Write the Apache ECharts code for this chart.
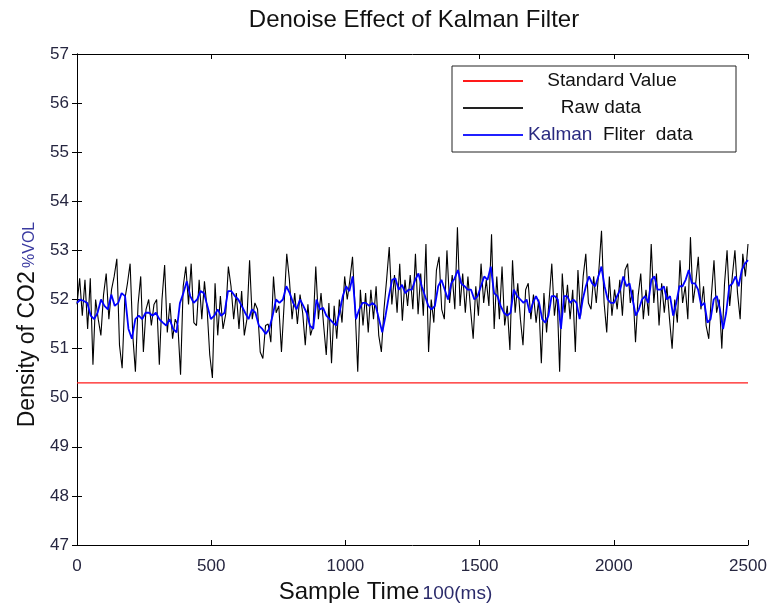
<!DOCTYPE html>
<html>
<head>
<meta charset="utf-8">
<script src="https://cdn.jsdelivr.net/npm/echarts@6/dist/echarts.min.js"></script>
<style>
html,body{margin:0;padding:0;background:#fff;}
#chart{width:769px;height:603px;}
</style>
</head>
<body>
<div id="chart"></div>
<script>
// ---- data ----
var titleText = 'Denoise Effect of Kalman Filter';
var xTicks = [0, 500, 1000, 1500, 2000, 2500];
var yTicks = [47, 48, 49, 50, 51, 52, 53, 54, 55, 56, 57];
var standardValue = 50.3;
// sample-time boundaries of the three read-off segments
var segmentBounds = [0, 831, 1652, 2500];

var rawSeg1 = [51.9, 52.43, 51.67, 52.4, 51.4, 52.43, 50.67, 52.0, 51.6, 51.27, 52.1, 52.53, 51.6, 52.2, 52.47, 52.83, 51.07, 50.6, 52.0, 52.33, 52.73, 51.27, 50.53, 51.9, 52.47, 50.93, 51.8, 52.0, 51.47, 51.9, 52.0, 50.67, 52.0, 52.7, 51.33, 51.93, 51.2, 51.6, 51.47, 50.47, 52.27, 52.67, 51.9, 52.73, 51.53, 51.47, 52.4, 51.6, 52.37, 51.8, 50.87, 50.4, 52.33, 51.27, 52.07, 51.4, 51.7, 52.67, 52.27, 51.6, 52.13, 51.4, 52.17, 51.27, 51.6, 52.8, 51.6, 51.93, 51.8, 50.93, 50.8, 51.47, 51.5, 51.13, 52.47, 51.73, 51.87, 50.93, 51.9, 52.93, 52.4, 51.6, 52.13, 51.5, 52.1];
var rawSeg2 = [51.73, 51.07, 51.9, 51.27, 51.47, 52.67, 51.6, 52.13, 51.47, 50.87, 51.93, 50.7, 51.87, 51.2, 52.0, 51.53, 52.47, 52.0, 52.4, 52.87, 51.8, 50.53, 52.2, 51.47, 52.13, 51.33, 52.2, 51.6, 52.27, 51.27, 50.93, 51.8, 52.4, 53.07, 51.9, 52.5, 51.73, 52.73, 51.57, 52.4, 51.87, 52.5, 51.8, 52.93, 51.7, 52.53, 51.67, 53.13, 50.93, 52.0, 51.53, 52.6, 52.87, 51.8, 51.6, 53.0, 51.93, 52.5, 51.8, 53.47, 51.87, 52.53, 51.73, 52.47, 51.8, 51.2, 52.27, 51.67, 52.73, 51.93, 52.4, 51.87, 53.33, 51.4, 52.47, 51.6, 52.67, 51.47, 51.87, 50.97, 52.8, 51.73, 52.33, 51.6];
var rawSeg3 = [51.07, 52.2, 52.33, 51.6, 52.1, 51.53, 52.0, 50.7, 52.13, 51.33, 52.0, 52.73, 51.67, 52.13, 50.53, 52.53, 51.73, 52.3, 51.6, 52.2, 50.93, 52.6, 51.67, 52.47, 52.93, 51.93, 51.8, 52.47, 51.93, 52.6, 53.4, 51.93, 51.33, 52.47, 51.67, 52.2, 51.8, 52.4, 51.67, 52.6, 52.73, 51.93, 52.2, 51.13, 52.07, 52.53, 51.6, 52.2, 51.67, 53.13, 51.93, 52.53, 51.47, 52.33, 51.73, 52.27, 51.6, 51.0, 52.0, 51.53, 52.8, 51.93, 52.27, 51.6, 53.27, 51.93, 52.33, 52.87, 51.8, 52.27, 51.47, 51.2, 52.07, 52.8, 51.73, 52.0, 51.0, 52.3, 53.0, 51.87, 52.47, 53.0, 52.13, 51.6, 52.93, 52.47, 53.13];

var kalmanSeg1 = [51.93, 52.0, 51.97, 51.93, 51.67, 51.6, 51.73, 52.0, 51.87, 51.8, 52.1, 51.87, 51.93, 52.13, 52.07, 51.4, 51.2, 51.6, 51.67, 51.6, 51.73, 51.73, 51.67, 51.73, 51.6, 51.53, 51.47, 51.6, 51.4, 51.33, 51.93, 52.13, 52.37, 52.07, 51.93, 52.0, 52.17, 52.13, 51.87, 51.6, 51.67, 51.8, 51.67, 51.73, 52.17, 52.17, 52.07, 52.0, 51.87, 51.73, 51.6, 51.8, 51.73, 51.47, 51.4, 51.3, 51.4, 51.67, 52.0, 51.93, 52.0, 52.27, 52.13, 51.93, 51.8, 52.0];
var kalmanSeg2 = [51.87, 51.73, 51.47, 51.4, 52.0, 51.8, 51.83, 51.67, 51.6, 51.53, 51.47, 51.73, 52.07, 52.27, 52.17, 52.47, 51.6, 51.8, 51.93, 51.93, 51.87, 51.93, 51.87, 51.6, 51.33, 51.67, 52.07, 52.4, 52.43, 52.2, 52.3, 52.13, 52.2, 52.2, 52.4, 52.53, 52.27, 52.07, 51.87, 51.8, 51.87, 52.27, 52.4, 52.2, 52.0, 52.33, 52.43, 52.6, 52.33, 52.27, 52.2, 52.2, 52.0, 52.07, 52.27, 52.47, 52.4, 52.67, 52.13, 52.07, 51.87, 51.73, 51.67, 51.73, 52.2, 52.07, 52.0];
var kalmanSeg3 = [51.93, 52.0, 51.73, 51.93, 52.07, 51.93, 51.6, 51.53, 51.67, 52.07, 52.07, 52.0, 51.4, 52.07, 52.07, 51.93, 52.0, 51.93, 51.6, 52.0, 52.27, 52.47, 52.33, 52.27, 52.47, 52.67, 52.27, 52.0, 51.93, 51.93, 52.07, 52.2, 52.47, 52.27, 52.33, 52.0, 51.67, 51.8, 52.0, 52.07, 51.93, 52.4, 52.47, 52.2, 52.2, 52.27, 52.0, 52.07, 51.67, 51.93, 52.27, 52.27, 52.4, 52.6, 52.33, 52.33, 52.2, 51.87, 51.93, 51.53, 51.6, 52.0, 52.07, 51.8, 51.4, 51.73, 52.27, 52.33, 52.47, 52.27, 52.6, 52.73, 52.8];

var seriesNames = ['Standard Value', 'Raw data', 'Kalman Fliter data'];

// ---- build [time, value] pairs ----
function place(segs) {
  var out = [];
  segs.forEach(function (seg, k) {
    var a = segmentBounds[k], b = segmentBounds[k + 1], n = seg.length;
    seg.forEach(function (v, i) {
      var t;
      if (k === 0) t = a + (b - a) * i / (n - 1);
      else t = a + (b - a) * (i + 1) / n;
      out.push([Math.round(t * 10) / 10, v]);
    });
  });
  return out;
}
var rawData = place([rawSeg1, rawSeg2, rawSeg3]);
var kalmanData = place([kalmanSeg1, kalmanSeg2, kalmanSeg3]);
var stdData = [[xTicks[0], standardValue], [xTicks[xTicks.length - 1], standardValue]];

var chart = echarts.init(document.getElementById('chart'), null, {renderer: 'canvas'});
var labelColor = '#262640';
var fontFam = '"Liberation Sans", Arial, sans-serif';

var frameAxisX = {
  type: 'value', min: xTicks[0], max: xTicks[xTicks.length - 1], interval: 500,
  axisLine: {show: true, lineStyle: {color: '#000', width: 1}},
  axisTick: {show: true, inside: true, length: 5, lineStyle: {color: '#000'}},
  splitLine: {show: false}
};
var frameAxisY = {
  type: 'value', min: yTicks[0], max: yTicks[yTicks.length - 1], interval: 1,
  axisLine: {show: true, lineStyle: {color: '#000', width: 1}},
  axisTick: {show: true, inside: true, length: 5, lineStyle: {color: '#000'}},
  splitLine: {show: false}
};

var option = {
  animation: false,
  backgroundColor: '#fff',
  title: {
    text: titleText, left: 414, top: 8, textAlign: 'center', padding: 0,
    textStyle: {fontFamily: fontFam, fontSize: 24, fontWeight: 'normal', color: '#111'}
  },
  grid: {left: 77, right: 21, top: 54, bottom: 58, containLabel: false, outerBoundsMode: 'none'},
  legend: {
    orient: 'vertical', left: 452, top: 66,
    padding: [5, 40, 7, 11],
    backgroundColor: '#fff', borderColor: '#222', borderWidth: 1, borderRadius: 0,
    itemWidth: 60, itemHeight: 2, itemGap: 7, itemTextGap: 9,
    icon: 'rect',
    data: seriesNames,
    formatter: function (name) {
      if (name === seriesNames[0]) return '{s|' + name + '}';
      if (name === seriesNames[1]) return '{r|' + name + '}';
      return '{k|Kalman}{t|  Fliter  data}';
    },
    textStyle: {
      fontFamily: fontFam, fontSize: 19, color: '#111', lineHeight: 20,
      rich: {
        s: {fontFamily: fontFam, fontSize: 19, lineHeight: 20, color: '#111', width: 168, align: 'center'},
        r: {fontFamily: fontFam, fontSize: 19, lineHeight: 20, color: '#111', width: 146, align: 'center'},
        k: {fontFamily: fontFam, fontSize: 19, lineHeight: 20, color: '#2a2a80'},
        t: {fontFamily: fontFam, fontSize: 19, lineHeight: 20, color: '#111'}
      }
    }
  },
  xAxis: [
    Object.assign({}, frameAxisX, {
      position: 'bottom',
      axisLabel: {show: true, margin: 13, fontFamily: fontFam, fontSize: 17, color: labelColor,
        formatter: function (v) { return String(v); }},
      name: '{a|Sample Time} {b|100(ms)}',
      nameLocation: 'middle', nameGap: 29,
      nameTextStyle: {
        padding: [0, 54, 0, 0],
        rich: {
          a: {fontFamily: fontFam, fontSize: 24, color: '#111', verticalAlign: 'bottom', lineHeight: 27},
          b: {fontFamily: fontFam, fontSize: 19, color: '#2a2a6a', verticalAlign: 'bottom', lineHeight: 27, padding: [0, 0, 1, 0]}
        }
      }
    }),
    Object.assign({}, frameAxisX, {position: 'top', axisLabel: {show: false}})
  ],
  yAxis: [
    Object.assign({}, frameAxisY, {
      position: 'left',
      axisLabel: {show: true, margin: 8, fontFamily: fontFam, fontSize: 17, color: labelColor},
      name: '{a|Density of CO2} {b|%VOL}',
      nameLocation: 'middle', nameGap: 38, nameRotate: 90,
      nameTextStyle: {
        padding: [0, 50, 0, 0],
        rich: {
          a: {fontFamily: fontFam, fontSize: 23, color: '#111', verticalAlign: 'bottom', lineHeight: 26},
          b: {fontFamily: fontFam, fontSize: 16, color: '#3a3aa0', verticalAlign: 'bottom', lineHeight: 26, padding: [0, 0, 1, 0]}
        }
      }
    }),
    Object.assign({}, frameAxisY, {position: 'right', axisLabel: {show: false}})
  ],
  series: [
    {
      name: seriesNames[0], type: 'line', data: stdData, xAxisIndex: 0, yAxisIndex: 0,
      symbol: 'none', lineStyle: {color: '#ff1a1a', width: 1.2}, itemStyle: {color: '#ff1a1a'}, z: 3
    },
    {
      name: seriesNames[1], type: 'line', data: rawData, xAxisIndex: 0, yAxisIndex: 0,
      symbol: 'none', lineStyle: {color: '#000', width: 1.1}, itemStyle: {color: '#222'}, z: 4
    },
    {
      name: seriesNames[2], type: 'line', data: kalmanData, xAxisIndex: 0, yAxisIndex: 0,
      symbol: 'none', lineStyle: {color: '#0000ff', width: 1.8}, itemStyle: {color: '#2020ff'}, z: 5
    }
  ]
};
chart.setOption(option);
</script>
</body>
</html>
